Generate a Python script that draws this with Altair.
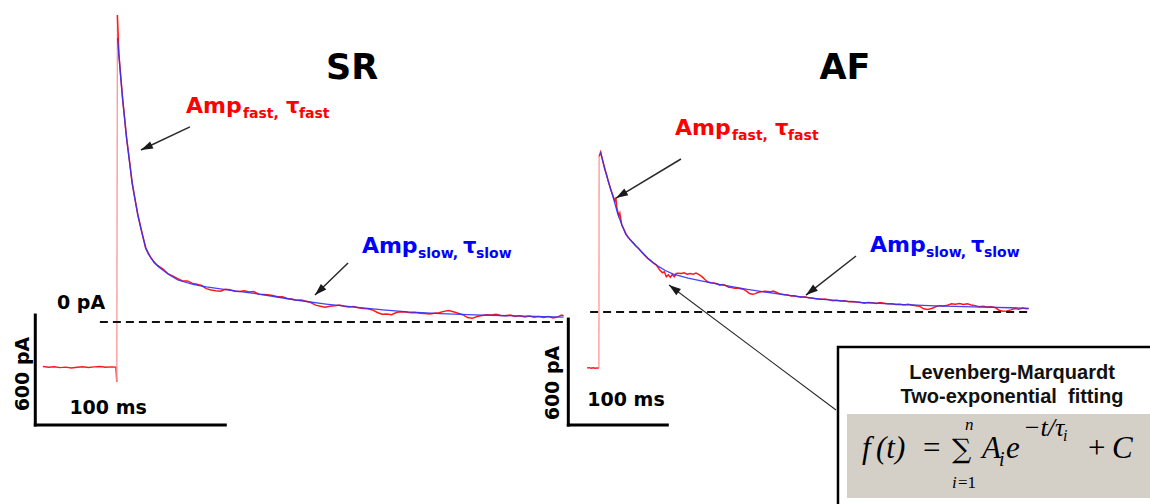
import math
import altair as alt
import pandas as pd

W, H = 1150, 504

# ---------------- SR recording (ms after the step, pA) ----------------
sr_pre_t = [-39, -36, -33, -30, -27, -24, -21, -18, -15, -12, -9, -6, -3, -0.6, -0.1]
sr_pre_pA = [-243, -247, -244, -249, -246, -251, -247, -244, -248, -245, -243, -247, -245, -246, -327]

sr_post_t = [0.2, 0.5, 1, 2, 3, 4, 5, 6.5, 8, 9.5,
             11, 13, 15, 16.5, 18, 19.5, 21, 22.5, 24, 25.5,
             27, 29.5, 32, 34.5, 37, 39.5, 42, 44.5, 47, 49.5,
             52, 54.5, 57, 59.5, 62, 64.5, 67, 69.5, 72, 74.5,
             77, 79.5, 82, 84.5, 87, 89.5, 92, 94.5, 97, 99.5,
             102, 104.5, 107, 109.5, 112, 114.5, 117, 119.5, 122, 124.5,
             127, 129.5, 132, 134.5, 137, 139.5, 142, 144.5, 147, 149.5,
             152, 154.5, 157, 159.5, 162, 164.5, 167, 169.5, 172, 174.5,
             177, 179.5, 182, 184.5, 187, 189.5, 192, 194.5, 197, 199.5,
             202, 204.5, 207, 209.5, 212, 214.5, 217, 219.5, 222, 224.5,
             227, 229.5, 232, 234, 235]
sr_post_pA = [1675, 1600, 1460, 1335, 1210, 1112, 1005, 885, 755, 670,
              580, 494, 405, 372, 350, 325, 310, 300, 290, 277,
              262, 250, 236, 224, 224, 212, 206, 199, 182, 175,
              170, 168, 178, 176, 168, 166, 170, 164, 166, 152,
              150, 148, 144, 138, 138, 128, 125, 118, 120, 113,
              106, 92, 86, 80, 86, 88, 92, 86, 82, 84,
              78, 74, 72, 66, 52, 42, 44, 40, 52, 56,
              54, 50, 52, 48, 46, 44, 48, 50, 58, 62,
              56, 48, 40, 24, 20, 30, 36, 40, 38, 42,
              36, 34, 38, 30, 34, 28, 32, 26, 30, 24,
              30, 22, 28, 38, 34]

sr_fit_t = [0.3, 1, 2, 3, 4, 5, 6.5, 8, 9.5, 11, 13, 15.3, 18, 22, 27, 32, 40, 47, 60, 71,
            85, 94, 110, 124, 140, 153, 170, 192, 215, 235]
sr_fit_pA = [1549, 1455, 1330, 1215, 1110, 1010, 880, 760, 666, 585, 490, 400, 345, 300, 260, 229, 205, 191, 172, 158,
             135, 120, 98, 82, 66, 55, 46, 38, 32, 27]

# ---------------- AF recording (ms after the step, pA) ----------------
af_pre_t = [-12, -10, -8, -6, -4, -2, -0.1]
af_pre_pA = [-317, -315, -318, -316, -318, -317, -317]

af_post_t = [0.1, 1.6, 4, 6, 8, 10, 12, 14, 16, 17,
             18, 20, 21, 23, 25, 27, 29, 31, 34, 37,
             40, 43, 46, 49, 52, 55, 58, 61, 64, 66,
             68, 70, 72, 74, 76, 78, 80, 83, 86, 89,
             92, 95, 98, 101, 104, 107, 110, 113, 116, 119,
             122, 125, 128, 131, 134, 137, 140, 143, 146, 149,
             152, 155, 158, 161, 164, 167, 170, 173, 176, 179,
             182, 185, 188, 191, 194, 197,
             200, 204, 208, 212, 216, 220, 224, 228, 232, 236,
             240, 244, 248, 252, 256, 260, 264, 268, 272, 276,
             280, 284, 288, 292, 296, 300, 304, 308, 312, 316,
             320, 324, 328, 332, 336, 340, 344, 348, 352, 356,
             360, 364, 368, 372, 376, 380, 384, 388, 392, 396,
             400, 404, 408, 412, 416, 420, 424, 428, 432, 434]
af_post_pA = [880, 905, 850, 805, 770, 728, 690, 660, 630, 648,
              590, 545, 560, 492, 470, 445, 425, 412, 395, 375,
              360, 340, 322, 305, 292, 276, 266, 240, 222, 228,
              200, 210, 196, 212, 200, 218, 220, 218, 222, 214,
              218, 214, 220, 212, 200, 184, 170, 166, 164, 160,
              152, 156, 150, 140, 138, 135, 136, 132, 128, 118,
              105, 100, 104, 112, 114, 118, 116, 114, 118, 112,
              104, 100, 98, 96, 90, 92,
              88, 84, 86, 80, 78, 74, 72, 74, 70, 64,
              66, 62, 64, 58, 60, 56, 54, 50, 54, 52,
              48, 54, 50, 46, 46, 42, 44, 40, 44, 40,
              36, 32, 18, 14, 20, 30, 36, 34, 38, 46,
              44, 48, 42, 46, 40, 36, 30, 32, 28, 30,
              26, 10, 4, 6, 12, 20, 16, 22, 18, 20]

af_fit_t = [1.6, 5, 9, 14, 19, 23, 27, 34, 41, 50, 60, 67, 75, 90, 102, 120, 150, 188, 226, 265,
            302, 340, 378, 416, 434]
af_fit_pA = [905, 830, 747, 655, 555, 495, 440, 393, 353, 300, 258, 235, 215, 192, 178, 158, 128, 97, 72, 54,
             43, 35, 29, 24, 21]

# ---------------- texts ----------------
panel_titles = ["SR", "AF"]
zero_label = "0 pA"
bar_ms = 100
bar_pA = 600
bar_ms_label = "100 ms"
bar_pA_label = "600 pA"
fit_title = ["Levenberg-Marquardt", "Two-exponential\u00a0 fitting"]

# ---------------- panel geometry ----------------
SR_PX_MS, SR_PX_PA, SR_X0, SR_Y0 = 1.9, 110 / 600, 117, 322
AF_PX_MS, AF_PX_PA, AF_X0, AF_Y0 = 0.99, 106 / 600, 599, 312

RED = "#ff1a1a"
RISE = "#ff8c8c"
BLUE = "#2f2fff"
LABEL_RED = "#ff0000"
LABEL_BLUE = "#0000ff"
SANS = "DejaVu Sans"
ARIAL = "Liberation Sans"
SERIF = "Liberation Serif"
ARROW = "M0,0L-0.65,2L0.65,2Z"


def scales(px_ms, px_pa, x0, y0):
    xs = alt.Scale(domain=[-x0 / px_ms, (W - x0) / px_ms], zero=False, nice=False)
    ys = alt.Scale(domain=[-(H - y0) / px_pa, y0 / px_pa], zero=False, nice=False)
    return xs, ys


def line(t, p, xs, ys, color, w, op=1.0):
    df = pd.DataFrame({"t": t, "p": p, "i": list(range(len(t)))})
    return alt.Chart(df).mark_line(color=color, strokeWidth=w, opacity=op).encode(
        x=alt.X("t:Q", scale=xs, axis=None),
        y=alt.Y("p:Q", scale=ys, axis=None),
        order="i:Q",
    )


def hrule(t1, t2, p, xs, ys, **kw):
    df = pd.DataFrame({"t1": [t1], "t2": [t2], "p": [p]})
    return alt.Chart(df).mark_rule(**kw).encode(
        x=alt.X("t1:Q", scale=xs, axis=None), x2="t2:Q",
        y=alt.Y("p:Q", scale=ys, axis=None))


def vrule(t, p1, p2, xs, ys, **kw):
    df = pd.DataFrame({"t": [t], "p1": [p1], "p2": [p2]})
    return alt.Chart(df).mark_rule(**kw).encode(
        x=alt.X("t:Q", scale=xs, axis=None),
        y=alt.Y("p1:Q", scale=ys, axis=None), y2="p2:Q")


def text(t, p, s, xs, ys, **kw):
    df = pd.DataFrame({"t": [t], "p": [p], "s": [s]})
    return alt.Chart(df).mark_text(**kw).encode(
        x=alt.X("t:Q", scale=xs, axis=None),
        y=alt.Y("p:Q", scale=ys, axis=None), text="s:N")


def amp_label(t, p, kind, color, xs, ys):
    if kind == "fast":
        pieces = [("Amp", 0, 0, 22), ("fast,", 57, 5, 14), ("τ", 100, 0, 21), ("fast", 113, 5, 14)]
    else:
        pieces = [("Amp", 0, 0, 22), ("slow,", 56, 5, 14), ("τ", 101, 0, 21), ("slow", 114, 5, 14)]
    return [text(t, p, s, xs, ys, dx=dx, dy=dy, fontSize=fs, font=SANS, fontWeight="bold",
                 color=color, align="left", baseline="alphabetic")
            for s, dx, dy, fs in pieces]


def arrows(rows, px_ms, px_pa, xs, ys, width=1.5):
    recs = []
    for t1, p1, t2, p2 in rows:
        dx = (t2 - t1) * px_ms
        dy = -(p2 - p1) * px_pa
        ang = math.degrees(math.atan2(dx, -dy)) % 360
        recs.append(dict(t1=t1, p1=p1, t2=t2, p2=p2, ang=ang))
    df = pd.DataFrame(recs)
    shaft = alt.Chart(df).mark_rule(color="#2a2a2a", strokeWidth=width).encode(
        x=alt.X("t1:Q", scale=xs, axis=None), x2="t2:Q",
        y=alt.Y("p1:Q", scale=ys, axis=None), y2="p2:Q")
    head = alt.Chart(df).mark_point(shape=ARROW, filled=True, size=144, color="#1a1a1a", opacity=1).encode(
        x=alt.X("t2:Q", scale=xs, axis=None),
        y=alt.Y("p2:Q", scale=ys, axis=None),
        angle=alt.Angle("ang:Q", scale=None))
    return [shaft, head]


# ================= SR panel =================
xs, ys = scales(SR_PX_MS, SR_PX_PA, SR_X0, SR_Y0)
sr_layers = [
    line(sr_pre_t, sr_pre_pA, xs, ys, RED, 1.4),
    line([sr_pre_t[-1], sr_post_t[0]], [sr_pre_pA[-1], sr_post_pA[0]], xs, ys, RISE, 1.2),
    line(sr_post_t, sr_post_pA, xs, ys, RED, 1.5),
    line(sr_fit_t, sr_fit_pA, xs, ys, BLUE, 1.3, 0.9),
    hrule(-9, 235, 0, xs, ys, color="#111111", strokeWidth=2, strokeDash=[8, 5]),
    vrule(-43, 38, 38 - bar_pA, xs, ys, color="black", strokeWidth=3, strokeCap="square"),
    hrule(-43, -43 + bar_ms, 38 - bar_pA, xs, ys, color="black", strokeWidth=3, strokeCap="square"),
    text(123.7, 1385, panel_titles[0], xs, ys, font=SANS, fontWeight="bold", fontSize=35,
         align="center", baseline="middle", color="black"),
    text(-18.9, 104, zero_label, xs, ys, font=SANS, fontWeight="bold", fontSize=19,
         align="center", baseline="middle", color="black"),
    text(-49.5, -284, bar_pA_label, xs, ys, font=SANS, fontWeight="bold", fontSize=19, angle=270,
         align="center", baseline="middle", color="black"),
    text(-4.7, -469, bar_ms_label, xs, ys, font=SANS, fontWeight="bold", fontSize=19,
         align="center", baseline="middle", color="black"),
]
sr_layers += amp_label(36.3, 1140, "fast", LABEL_RED, xs, ys)
sr_layers += amp_label(128.9, 376, "slow", LABEL_BLUE, xs, ys)
sr_layers += arrows([(38.4, 1064, 12.6, 938), (121.6, 322, 104.2, 147)], SR_PX_MS, SR_PX_PA, xs, ys)
sr = alt.layer(*sr_layers)

# ================= AF panel =================
xa, ya = scales(AF_PX_MS, AF_PX_PA, AF_X0, AF_Y0)
af_layers = [
    line(af_pre_t, af_pre_pA, xa, ya, RED, 1.4),
    line([af_pre_t[-1], af_post_t[0]], [af_pre_pA[-1], af_post_pA[0]], xa, ya, RISE, 1.2),
    line(af_post_t, af_post_pA, xa, ya, RED, 1.5),
    line(af_fit_t, af_fit_pA, xa, ya, BLUE, 1.3, 0.9),
    hrule(-9, 435, 0, xa, ya, color="#111111", strokeWidth=2, strokeDash=[8, 5]),
    vrule(-31, -40, -40 - bar_pA, xa, ya, color="black", strokeWidth=3, strokeCap="square"),
    hrule(-31, -31 + bar_ms, -40 - bar_pA, xa, ya, color="black", strokeWidth=3, strokeCap="square"),
    text(248.5, 1381, panel_titles[1], xa, ya, font=SANS, fontWeight="bold", fontSize=35,
         align="center", baseline="middle", color="black"),
    text(-46.5, -402, bar_pA_label, xa, ya, font=SANS, fontWeight="bold", fontSize=19, angle=270,
         align="center", baseline="middle", color="black"),
    text(27.3, -498, bar_ms_label, xa, ya, font=SANS, fontWeight="bold", fontSize=19,
         align="center", baseline="middle", color="black"),
]
af_layers += amp_label(76.8, 1002, "fast", LABEL_RED, xa, ya)
af_layers += amp_label(273.7, 340, "slow", LABEL_BLUE, xa, ya)
af_layers += arrows([(82.8, 866, 17.2, 645), (259.6, 317, 209.1, 96)], AF_PX_MS, AF_PX_PA, xa, ya)
af_layers += arrows([(239.4, -555, 70.7, 153)], AF_PX_MS, AF_PX_PA, xa, ya, width=1.1)

# fitting box
box = pd.DataFrame({"t1": [241.4], "t2": [640], "p1": [-198], "p2": [-1300]})
band = pd.DataFrame({"t1": [250.5], "t2": [640], "p1": [-577], "p2": [-1053]})
af_layers.append(alt.Chart(box).mark_rect(fill="white", stroke="black", strokeWidth=2.5).encode(
    x=alt.X("t1:Q", scale=xa, axis=None), x2="t2:Q",
    y=alt.Y("p1:Q", scale=ya, axis=None), y2="p2:Q"))
af_layers.append(alt.Chart(band).mark_rect(fill="#d4d0c8").encode(
    x=alt.X("t1:Q", scale=xa, axis=None), x2="t2:Q",
    y=alt.Y("p1:Q", scale=ya, axis=None), y2="p2:Q"))
af_layers.append(text(417.2, -379, fit_title[0], xa, ya, font=ARIAL, fontWeight="bold", fontSize=20,
                      align="center", baseline="alphabetic", color="#111111"))
af_layers.append(text(417.2, -515, fit_title[1], xa, ya, font=ARIAL, fontWeight="bold", fontSize=20,
                      align="center", baseline="alphabetic", color="#111111"))

# formula f(t) = sum_{i=1}^{n} A_i e^{-t/tau_i} + C
formula = [
    ("f", 2, 0, 31, "italic", SERIF), ("(t)", 16, 0, 31, "italic", SERIF), ("=", 63, 0, 31, "normal", SERIF),
    ("∑", 92, 0, 27, "normal", "DejaVu Serif"), ("n", 105, -28, 17, "italic", SERIF),
    ("i", 92, 30, 17, "italic", SERIF), ("=1", 98, 30, 17, "normal", SERIF),
    ("A", 122, 0, 31, "italic", SERIF), ("i", 139, 8, 20, "italic", SERIF),
    ("e", 146, 0, 31, "italic", SERIF), ("−t/τ", 163, -22, 26, "italic", SERIF),
    ("i", 203, -17, 16, "italic", SERIF),
    ("+", 228, 0, 31, "normal", SERIF), ("C", 252, 0, 31, "italic", SERIF),
]
for s, dx, dy, fs, st, fnt in formula:
    af_layers.append(text(263.6, -826, s, xa, ya, dx=dx, dy=dy, fontSize=fs, font=fnt, fontStyle=st,
                          align="left", baseline="alphabetic", color="black"))
af = alt.layer(*af_layers)

chart = alt.layer(sr, af).resolve_scale(x="independent", y="independent").properties(
    width=W, height=H, padding=0, autosize=alt.AutoSizeParams(type="none"), background="white"
).configure_view(stroke=None)

chart.save("out.html", embed_options={"renderer": "svg", "actions": False})
